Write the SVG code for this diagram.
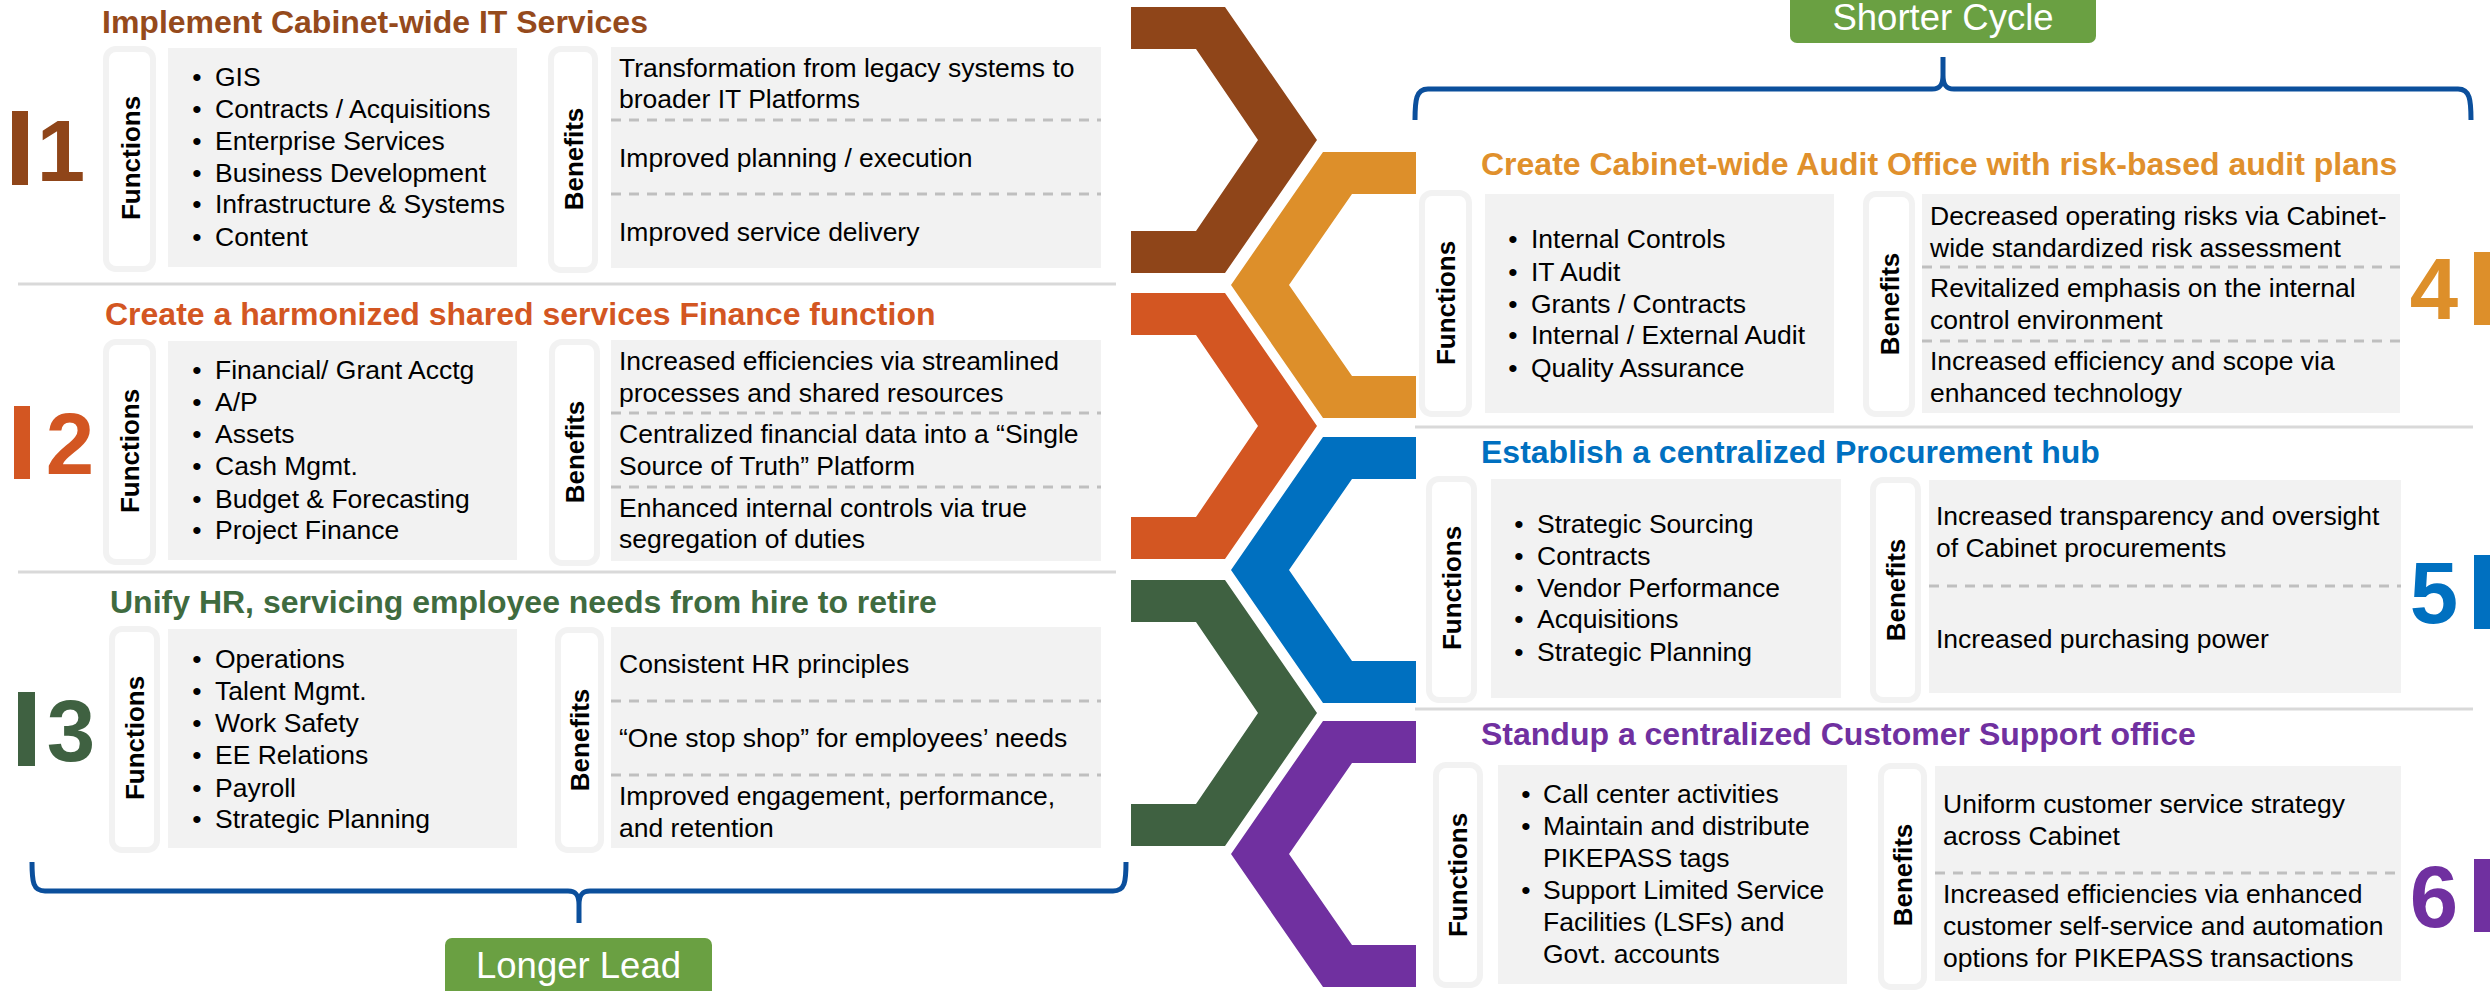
<svg xmlns="http://www.w3.org/2000/svg" width="2491" height="991" viewBox="0 0 2491 991">
<style>
.t{font-family:"Liberation Sans",Arial,sans-serif;font-size:26.5px;fill:#000}
.ttl{font-family:"Liberation Sans",Arial,sans-serif;font-size:32px;font-weight:bold}
.lbl{font-family:"Liberation Sans",Arial,sans-serif;font-size:26px;font-weight:bold;fill:#000;text-anchor:middle}
.num{font-family:"Liberation Sans",Arial,sans-serif;font-size:87px;font-weight:bold;text-anchor:middle}
.tag{font-family:"Liberation Sans",Arial,sans-serif;font-size:36.5px;fill:#fff;text-anchor:middle}
.lb{fill:#fff;stroke:#f2f2f2;stroke-width:6}
.cb{fill:#f2f2f2}
.dash{stroke:#bfbfbf;stroke-width:3;stroke-dasharray:10 8;fill:none}
.sep{stroke:#d9d9d9;stroke-width:3;fill:none}
.br{stroke:#0b4f9c;stroke-width:5;fill:none;stroke-linejoin:round}
.bul{text-anchor:middle}
</style>

<!-- separators -->
<g id="separators">
<line class="sep" x1="18" y1="284" x2="1116" y2="284"/>
<line class="sep" x1="18" y1="572" x2="1116" y2="572"/>
<line class="sep" x1="1415" y1="427" x2="2473" y2="427"/>
<line class="sep" x1="1415" y1="709" x2="2473" y2="709"/>
</g>

<!-- chevrons -->
<g id="chevrons">
<polygon fill="#8f4519" points="1131,7 1225,7 1317,140 1225,273 1131,273 1131,231 1196,231 1258,140 1196,49 1131,49"/>
<polygon fill="#d35622" points="1131,293 1225,293 1317,426 1225,559 1131,559 1131,517 1196,517 1258,426 1196,335 1131,335"/>
<polygon fill="#3f6141" points="1131,580 1225,580 1317,713 1225,846 1131,846 1131,804 1196,804 1258,713 1196,622 1131,622"/>
<polygon fill="#dd8f2a" points="1416,152 1323,152 1231,285 1323,418 1416,418 1416,376 1352,376 1289,285 1352,194 1416,194"/>
<polygon fill="#0070c0" points="1416,437 1323,437 1231,570 1323,703 1416,703 1416,661 1352,661 1289,570 1352,479 1416,479"/>
<polygon fill="#7030a0" points="1416,721 1323,721 1231,854 1323,987 1416,987 1416,945 1352,945 1289,854 1352,763 1416,763"/>
</g>

<!-- brackets -->
<g id="connectors">
<path class="br" d="M32,862 C32,882 33,891 45,891 L568,891 C576,891 579,895 579,905 L579,923 M579,905 C579,895 582,891 590,891 L1113,891 C1125,891 1126,882 1126,862"/>
<path class="br" d="M1415,120 C1415,100 1416,89 1428,89 L1932,89 C1940,89 1943,85 1943,75 L1943,57 M1943,75 C1943,85 1946,89 1954,89 L2458,89 C2470,89 2471,100 2471,120"/>
</g>

<g id="longer-lead">
<rect x="445" y="938" width="267" height="70" rx="7" fill="#6aa042"/>
<text class="tag" x="578.5" y="978">Longer Lead</text>
</g>
<g id="shorter-cycle">
<rect x="1790" y="-20" width="306" height="63" rx="7" fill="#6aa042"/>
<text class="tag" x="1943" y="30">Shorter Cycle</text>
</g>

<!-- Panel 1 -->
<g id="panel1">
<rect x="12" y="111" width="16" height="74" fill="#8f4519"/>
<text class="num" x="61" y="181" fill="#8f4519">1</text>
<text class="ttl" x="102" y="33" fill="#954a1c">Implement Cabinet-wide IT Services</text>
<rect class="lb" x="106" y="49" width="47" height="220" rx="10"/>
<text class="lbl" transform="translate(140,158) rotate(-90)">Functions</text>
<rect class="cb" x="168" y="48" width="349" height="219"/>
<g class="t">
<text class="bul" x="197" y="86">•</text><text x="215" y="86">GIS</text>
<text class="bul" x="197" y="118">•</text><text x="215" y="118">Contracts / Acquisitions</text>
<text class="bul" x="197" y="150">•</text><text x="215" y="150">Enterprise Services</text>
<text class="bul" x="197" y="182">•</text><text x="215" y="182">Business Development</text>
<text class="bul" x="197" y="213">•</text><text x="215" y="213">Infrastructure &amp; Systems</text>
<text class="bul" x="197" y="246">•</text><text x="215" y="246">Content</text>
</g>
<rect class="lb" x="551" y="49" width="44" height="221" rx="10"/>
<text class="lbl" transform="translate(583,159) rotate(-90)">Benefits</text>
<rect class="cb" x="611" y="47" width="490" height="221"/>
<line class="dash" x1="611" y1="120" x2="1101" y2="120"/>
<line class="dash" x1="611" y1="194" x2="1101" y2="194"/>
<g class="t">
<text x="619" y="77">Transformation from legacy systems to</text>
<text x="619" y="108">broader IT Platforms</text>
<text x="619" y="167">Improved planning / execution</text>
<text x="619" y="241">Improved service delivery</text>
</g>
</g>

<!-- Panel 2 -->
<g id="panel2">
<rect x="14" y="406" width="16" height="73" fill="#d35622"/>
<text class="num" x="70" y="474" fill="#d35622">2</text>
<text class="ttl" x="105" y="325" fill="#d35622">Create a harmonized shared services Finance function</text>
<rect class="lb" x="106" y="342" width="47" height="220" rx="10"/>
<text class="lbl" transform="translate(139,451) rotate(-90)">Functions</text>
<rect class="cb" x="168" y="341" width="349" height="219"/>
<g class="t">
<text class="bul" x="197" y="379">•</text><text x="215" y="379">Financial/ Grant Acctg</text>
<text class="bul" x="197" y="411">•</text><text x="215" y="411">A/P</text>
<text class="bul" x="197" y="443">•</text><text x="215" y="443">Assets</text>
<text class="bul" x="197" y="475">•</text><text x="215" y="475">Cash Mgmt.</text>
<text class="bul" x="197" y="508">•</text><text x="215" y="508">Budget &amp; Forecasting</text>
<text class="bul" x="197" y="539">•</text><text x="215" y="539">Project Finance</text>
</g>
<rect class="lb" x="552" y="342" width="45" height="221" rx="10"/>
<text class="lbl" transform="translate(584,452) rotate(-90)">Benefits</text>
<rect class="cb" x="611" y="340" width="490" height="221"/>
<line class="dash" x1="611" y1="413" x2="1101" y2="413"/>
<line class="dash" x1="611" y1="487" x2="1101" y2="487"/>
<g class="t">
<text x="619" y="370">Increased efficiencies via streamlined</text>
<text x="619" y="402">processes and shared resources</text>
<text x="619" y="443">Centralized financial data into a “Single</text>
<text x="619" y="475">Source of Truth” Platform</text>
<text x="619" y="517">Enhanced internal controls via true</text>
<text x="619" y="548">segregation of duties</text>
</g>
</g>

<!-- Panel 3 -->
<g id="panel3">
<rect x="18" y="692" width="17" height="74" fill="#3f6141"/>
<text class="num" x="71" y="761" fill="#3f6141">3</text>
<text class="ttl" x="110" y="613" fill="#3f6b3f">Unify HR, servicing employee needs from hire to retire</text>
<rect class="lb" x="112" y="629" width="45" height="221" rx="10"/>
<text class="lbl" transform="translate(144,738) rotate(-90)">Functions</text>
<rect class="cb" x="168" y="629" width="349" height="219"/>
<g class="t">
<text class="bul" x="197" y="668">•</text><text x="215" y="668">Operations</text>
<text class="bul" x="197" y="700">•</text><text x="215" y="700">Talent Mgmt.</text>
<text class="bul" x="197" y="732">•</text><text x="215" y="732">Work Safety</text>
<text class="bul" x="197" y="764">•</text><text x="215" y="764">EE Relations</text>
<text class="bul" x="197" y="797">•</text><text x="215" y="797">Payroll</text>
<text class="bul" x="197" y="828">•</text><text x="215" y="828">Strategic Planning</text>
</g>
<rect class="lb" x="558" y="630" width="43" height="220" rx="10"/>
<text class="lbl" transform="translate(589,740) rotate(-90)">Benefits</text>
<rect class="cb" x="611" y="627" width="490" height="221"/>
<line class="dash" x1="611" y1="701" x2="1101" y2="701"/>
<line class="dash" x1="611" y1="775" x2="1101" y2="775"/>
<g class="t">
<text x="619" y="673">Consistent HR principles</text>
<text x="619" y="747">“One stop shop” for employees’ needs</text>
<text x="619" y="805">Improved engagement, performance,</text>
<text x="619" y="837">and retention</text>
</g>
</g>

<!-- Panel 4 -->
<g id="panel4">
<text class="ttl" x="1481" y="175" fill="#e0902c">Create Cabinet-wide Audit Office with risk-based audit plans</text>
<rect class="lb" x="1422" y="193" width="47" height="221" rx="10"/>
<text class="lbl" transform="translate(1455,303) rotate(-90)">Functions</text>
<rect class="cb" x="1485" y="194" width="349" height="219"/>
<g class="t">
<text class="bul" x="1513" y="248">•</text><text x="1531" y="248">Internal Controls</text>
<text class="bul" x="1513" y="281">•</text><text x="1531" y="281">IT Audit</text>
<text class="bul" x="1513" y="313">•</text><text x="1531" y="313">Grants / Contracts</text>
<text class="bul" x="1513" y="344">•</text><text x="1531" y="344">Internal / External Audit</text>
<text class="bul" x="1513" y="377">•</text><text x="1531" y="377">Quality Assurance</text>
</g>
<rect class="lb" x="1866" y="194" width="46" height="220" rx="10"/>
<text class="lbl" transform="translate(1899,304) rotate(-90)">Benefits</text>
<rect class="cb" x="1922" y="194" width="478" height="219"/>
<line class="dash" x1="1922" y1="267" x2="2400" y2="267"/>
<line class="dash" x1="1922" y1="341" x2="2400" y2="341"/>
<g class="t">
<text x="1930" y="225">Decreased operating risks via Cabinet-</text>
<text x="1930" y="257">wide standardized risk assessment</text>
<text x="1930" y="297">Revitalized emphasis on the internal</text>
<text x="1930" y="329">control environment</text>
<text x="1930" y="370">Increased efficiency and scope via</text>
<text x="1930" y="402">enhanced technology</text>
</g>
<text class="num" x="2434" y="319" fill="#dd8f2a">4</text>
<rect x="2474" y="252" width="16" height="73" fill="#dd8f2a"/>
</g>

<!-- Panel 5 -->
<g id="panel5">
<text class="ttl" x="1481" y="463" fill="#0070c0">Establish a centralized Procurement hub</text>
<rect class="lb" x="1429" y="479" width="45" height="221" rx="10"/>
<text class="lbl" transform="translate(1461,588) rotate(-90)">Functions</text>
<rect class="cb" x="1491" y="479" width="350" height="219"/>
<g class="t">
<text class="bul" x="1519" y="533">•</text><text x="1537" y="533">Strategic Sourcing</text>
<text class="bul" x="1519" y="565">•</text><text x="1537" y="565">Contracts</text>
<text class="bul" x="1519" y="597">•</text><text x="1537" y="597">Vendor Performance</text>
<text class="bul" x="1519" y="628">•</text><text x="1537" y="628">Acquisitions</text>
<text class="bul" x="1519" y="661">•</text><text x="1537" y="661">Strategic Planning</text>
</g>
<rect class="lb" x="1873" y="480" width="45" height="220" rx="10"/>
<text class="lbl" transform="translate(1905,590) rotate(-90)">Benefits</text>
<rect class="cb" x="1929" y="480" width="472" height="213"/>
<line class="dash" x1="1929" y1="586" x2="2401" y2="586"/>
<g class="t">
<text x="1936" y="525">Increased transparency and oversight</text>
<text x="1936" y="557">of Cabinet procurements</text>
<text x="1936" y="648">Increased purchasing power</text>
</g>
<text class="num" x="2434" y="623" fill="#0070c0">5</text>
<rect x="2474" y="555" width="16" height="74" fill="#0070c0"/>
</g>

<!-- Panel 6 -->
<g id="panel6">
<text class="ttl" x="1481" y="745" fill="#7030a0">Standup a centralized Customer Support office</text>
<rect class="lb" x="1436" y="765" width="44" height="220" rx="10"/>
<text class="lbl" transform="translate(1467,875) rotate(-90)">Functions</text>
<rect class="cb" x="1498" y="765" width="349" height="219"/>
<g class="t">
<text class="bul" x="1526" y="803">•</text><text x="1543" y="803">Call center activities</text>
<text class="bul" x="1526" y="835">•</text><text x="1543" y="835">Maintain and distribute</text>
<text x="1543" y="867">PIKEPASS tags</text>
<text class="bul" x="1526" y="899">•</text><text x="1543" y="899">Support Limited Service</text>
<text x="1543" y="931">Facilities (LSFs) and</text>
<text x="1543" y="963">Govt. accounts</text>
</g>
<rect class="lb" x="1881" y="766" width="43" height="221" rx="10"/>
<text class="lbl" transform="translate(1912,875) rotate(-90)">Benefits</text>
<rect class="cb" x="1935" y="766" width="466" height="215"/>
<line class="dash" x1="1935" y1="873" x2="2401" y2="873"/>
<g class="t">
<text x="1943" y="813">Uniform customer service strategy</text>
<text x="1943" y="845">across Cabinet</text>
<text x="1943" y="903">Increased efficiencies via enhanced</text>
<text x="1943" y="935">customer self-service and automation</text>
<text x="1943" y="967">options for PIKEPASS transactions</text>
</g>
<text class="num" x="2434" y="927" fill="#7030a0">6</text>
<rect x="2474" y="859" width="16" height="73" fill="#7030a0"/>
</g>
</svg>
